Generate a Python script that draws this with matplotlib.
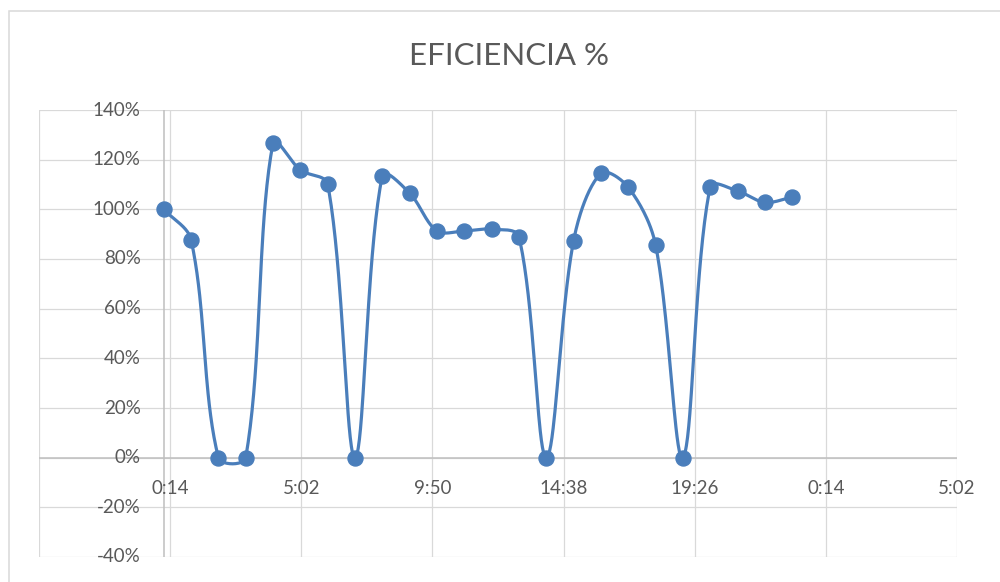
import matplotlib.pyplot as plt
from matplotlib.patches import Rectangle
import numpy as np

# hours of the day (0..23) and efficiency in %
hours = list(range(24))
eficiencia = [100, 87.7, 0, 0, 126.8, 115.8, 110.1, 0, 113.6, 106.5, 91.3, 91.3,
              92.0, 89.0, 0, 87.4, 114.5, 108.9, 85.7, 0, 109.1, 107.4, 102.8, 104.9]
x_ticks = [14 / 1440 + 0.2 * k for k in range(7)]
x_tick_labels = ["0:14", "5:02", "9:50", "14:38", "19:26", "0:14", "5:02"]
y_ticks = [-40, -20, 0, 20, 40, 60, 80, 100, 120, 140]

blue = "#4A7EBB"
grey_text = "#595959"
grid_col = "#D9D9D9"

plt.rcParams["font.family"] = ["Lato", "DejaVu Sans"]

x = np.array(hours) / 24.0
y = np.array(eficiencia) / 100.0

# approx. pixels per data unit, used so the smoothing behaves like Excel's
SX = 131.2 / 0.2
SY = 248.5


def smooth(xs, ys, n=40):
    # Excel-like smoothed line: bezier segments, tangents scaled by chord length
    pts = np.column_stack([xs * SX, ys * SY])
    p = np.vstack([pts[0], pts, pts[-1]])
    t = np.linspace(0, 1, n)[:, None]
    out = []
    for i in range(1, len(p) - 2):
        p0, p1, p2, p3 = p[i - 1], p[i], p[i + 1], p[i + 2]
        d01 = np.hypot(*(p1 - p0))
        d12 = np.hypot(*(p2 - p1))
        d23 = np.hypot(*(p3 - p2))
        c1 = p1 + (p2 - p0) * (d12 / (d01 + d12)) / 3
        c2 = p2 - (p3 - p1) * (d12 / (d12 + d23)) / 3
        b = (1 - t) ** 3 * p1 + 3 * (1 - t) ** 2 * t * c1 \
            + 3 * (1 - t) * t ** 2 * c2 + t ** 3 * p2
        out.append(b)
    out = np.vstack(out)
    return out[:, 0] / SX, out[:, 1] / SY


fig = plt.figure(figsize=(10, 5.82), dpi=100)
fig.patches.append(Rectangle((9 / 1000, -0.1), 2, 1 - 11 / 582 + 0.1,
                             transform=fig.transFigure, fill=False,
                             edgecolor=grid_col, lw=1.1))
ax = fig.add_axes([39 / 1000, 1 - 557 / 582, 918 / 1000, 447 / 582])

xmin = 14 / 1440 - 0.2
ax.set_xlim(xmin, x_ticks[-1])
ax.set_ylim(-0.4, 1.4)

for xv in [xmin] + x_ticks:
    ax.axvline(xv, color=grid_col, lw=0.9, zorder=0)
for yv in y_ticks:
    ax.axhline(yv / 100, color=grid_col, lw=0.9, zorder=0)
ax.axvline(0, color="#BFBFBF", lw=1.1, zorder=1)
ax.axhline(0, color="#BFBFBF", lw=1.1, zorder=1)

sx, sy = smooth(x, y)
ax.plot(sx, sy, color=blue, lw=2.3, zorder=3, solid_capstyle="round")
ax.plot(x, y, "o", color=blue, ms=10.8, zorder=4)

for s in ax.spines.values():
    s.set_visible(False)
ax.set_xticks([])
ax.set_yticks([])

# y labels next to the y axis (which crosses at x=0)
for yv in y_ticks:
    ax.annotate("{}%".format(yv), xy=(0, yv / 100), xytext=(-23, 0),
                textcoords="offset pixels", ha="right", va="center",
                fontsize=13.5, color=grey_text)
# x labels below the x axis (which crosses at y=0)
for xv, lab in zip(x_ticks, x_tick_labels):
    ax.annotate(lab, xy=(xv, 0), xytext=(0, -31), textcoords="offset pixels",
                ha="center", va="center", fontsize=13.5, color=grey_text)

fig.text(509 / 1000, 1 - 56 / 582, "EFICIENCIA %", ha="center", va="center",
         fontsize=22.5, color=grey_text)

fig.savefig("out.png", dpi=100)
